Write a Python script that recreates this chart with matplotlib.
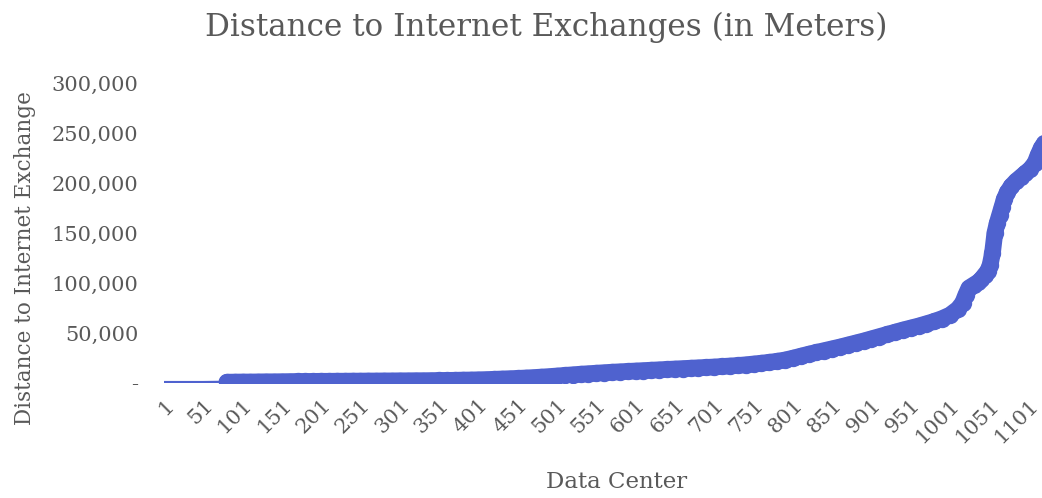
import numpy as np
import matplotlib
matplotlib.use("Agg")
import matplotlib.pyplot as plt
from matplotlib.ticker import FuncFormatter

# data center rank (sorted by distance) and distance to nearest IXP in meters
data_center = [1, 11, 21, 31, 41, 51, 61, 71, 81, 91, 101, 111, 121, 131, 141,
               151, 161, 171, 181, 191, 201, 211, 221, 231, 241, 251, 261, 271,
               281, 291, 301, 311, 321, 331, 341, 351, 361, 371, 381, 391, 401,
               411, 421, 431, 441, 451, 461, 471, 481, 491, 501, 511, 521, 531,
               541, 551, 561, 571, 581, 591, 601, 611, 621, 631, 641, 651, 661,
               671, 681, 691, 701, 711, 721, 731, 741, 751, 761, 771, 781, 791,
               801, 811, 821, 831, 841, 851, 861, 871, 881, 891, 901, 911, 921,
               931, 941, 951, 961, 971, 981, 991, 1001, 1011, 1017, 1021, 1025,
               1031, 1037, 1041, 1045, 1049, 1052, 1055, 1058, 1061, 1064, 1067,
               1070, 1074, 1079, 1085, 1091, 1097, 1103, 1109, 1113, 1117, 1121]
distance = [500, 500, 500, 500, 500, 500, 600, 700, 800, 900, 1000, 1000, 1100,
            1200, 1200, 1300, 1400, 1500, 1500, 1600, 1700, 1700, 1800, 1800,
            1900, 1900, 2000, 2000, 2100, 2100, 2200, 2200, 2300, 2300, 2400,
            2500, 2600, 2700, 2900, 3000, 3200, 3400, 3700, 4000, 4300, 4600,
            5000, 5400, 5900, 6400, 7000, 7600, 8200, 8800, 9300, 9800, 10300,
            10800, 11200, 11600, 12000, 12400, 12800, 13200, 13600, 14000, 14400,
            14800, 15200, 15600, 16000, 16500, 17000, 17500, 18200, 19000, 19800,
            20700, 21700, 23000, 24800, 26800, 28800, 30600, 32400, 34200, 36000,
            38000, 40000, 42000, 44200, 46400, 48600, 50800, 53000, 55000, 57000,
            59300, 61600, 64500, 68000, 74000, 80000, 88000, 95000, 98000, 101000,
            104000, 108000, 112000, 118000, 130000, 150000, 160000, 168000,
            176000, 184000, 191000, 197000, 202000, 206000, 210000, 214000,
            220000, 228000, 235000, 240000]
xtick_labels = list(range(1, 1102, 50))
ytick_values = list(range(0, 300001, 50000))

x = np.array(data_center)
y = np.array(distance)
blue = "#4F62CF"
grey = "#595959"
font = "DejaVu Serif"

fig = plt.figure(figsize=(10.42, 4.98), dpi=100)
ax = fig.add_axes([0.157, 0.231, 0.843, 0.602])

# thin line where there are no markers, thick marker band after that
ax.plot(x, y, color=blue, lw=2.2)
m = x >= 81
ax.plot(x[m], y[m], color=blue, lw=12, solid_capstyle="round",
        solid_joinstyle="round", marker="o", markersize=12.5, markeredgewidth=0)

ax.set_xlim(0.5, 1118)
ax.set_ylim(0, 300000)
ax.set_yticks(ytick_values)
ax.yaxis.set_major_formatter(FuncFormatter(lambda v, p: "-" if v == 0 else f"{int(v):,}"))
ax.set_xticks(xtick_labels)
ax.set_xticklabels([str(v) for v in xtick_labels], rotation=45, ha="right",
                   rotation_mode="anchor")

for s in ax.spines.values():
    s.set_visible(False)
ax.tick_params(length=0, colors=grey, labelfontfamily=font)
ax.tick_params(axis="y", pad=18, labelsize=15)
ax.tick_params(axis="x", pad=9, labelsize=15)

fig.text(0.024, 0.482, "Distance to Internet Exchange", rotation=90, ha="center",
         va="center", fontsize=15.5, color=grey, family=font)
fig.text(0.592, 0.032, "Data Center", ha="center", va="center", fontsize=16.5,
         color=grey, family=font)
fig.text(0.524, 0.944, "Distance to Internet Exchanges (in Meters)", ha="center",
         va="center", fontsize=22.3, color=grey, family=font)

fig.savefig("out.png", dpi=100)
